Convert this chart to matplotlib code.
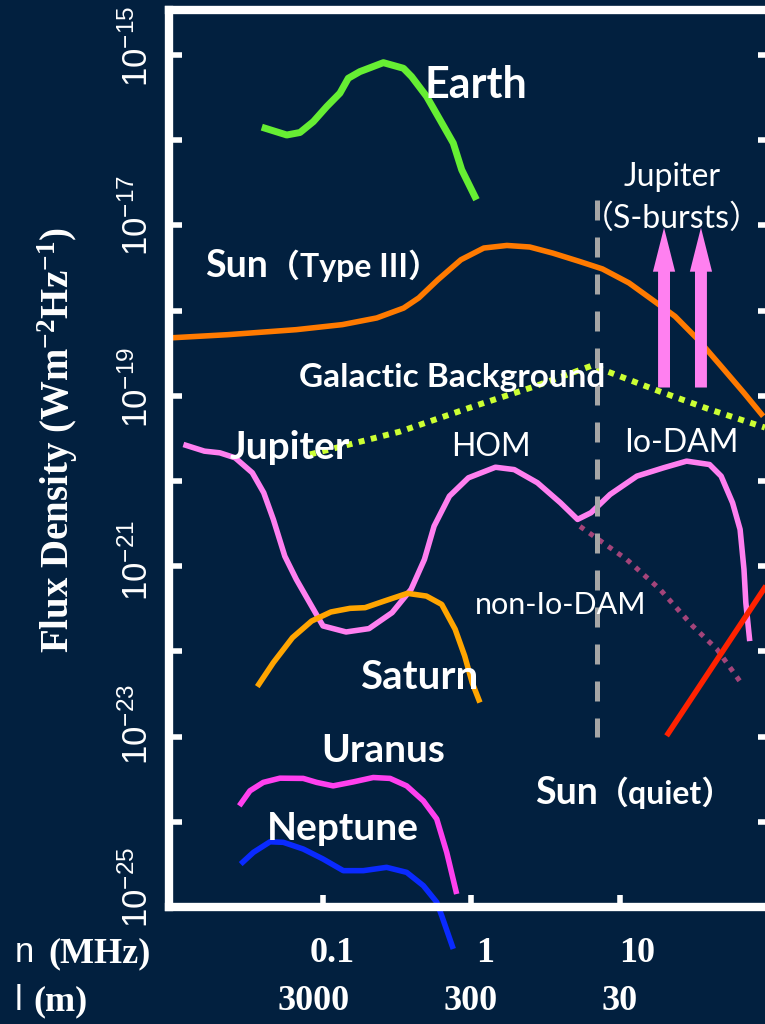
import matplotlib
matplotlib.use("Agg")
import matplotlib.pyplot as plt
from matplotlib.transforms import blended_transform_factory, ScaledTranslation

plt.rcParams['mathtext.default'] = 'regular'

BG = "#02203f"
SANS = ['Lato', 'Noto Sans CJK JP', 'DejaVu Sans']

# frequency in MHz, flux density in W m^-2 Hz^-1
earth_f = [0.0387, 0.057, 0.070, 0.0861, 0.106, 0.130, 0.148, 0.177, 0.255,
           0.348, 0.395, 0.499, 0.614, 0.754, 0.859, 1.08]
earth_s = [1.42e-16, 1.15e-16, 1.23e-16, 1.65e-16, 2.48e-16, 3.56e-16, 5.33e-16,
           6.37e-16, 8.12e-16, 6.98e-16, 5.57e-16, 3.25e-16, 1.73e-16, 9.23e-17,
           4.49e-17, 2.00e-17]

sun3_f = [0.00933, 0.0227, 0.0661, 0.135, 0.230, 0.349, 0.442, 0.594, 0.849, 1.21,
          1.73, 2.47, 3.52, 5.34, 7.62, 11.5, 16.5, 23.5, 33.6, 48.0, 68.4, 92.1]
sun3_s = [4.78e-19, 5.21e-19, 5.97e-19, 6.84e-19, 8.19e-19, 1.07e-18, 1.41e-18,
          2.30e-18, 3.95e-18, 5.42e-18, 5.81e-18, 5.57e-18, 4.73e-18, 3.77e-18,
          3.08e-18, 2.11e-18, 1.34e-18, 8.55e-19, 4.56e-19, 2.22e-19, 1.08e-19,
          5.75e-20]

gal_f = [0.0818, 0.330, 1.07, 2.64, 6.48, 18.6, 40.4, 94.6]
gal_s = [2.05e-20, 3.80e-20, 7.67e-20, 1.28e-19, 2.26e-19, 1.12e-19, 6.89e-20, 4.24e-20]

jup_f = [0.01148, 0.01589, 0.0202, 0.0256, 0.0334, 0.0399, 0.0463, 0.0553, 0.0661,
         0.0813, 0.100, 0.143, 0.204, 0.292, 0.392, 0.482, 0.560, 0.710, 0.954,
         1.45, 1.94, 2.78, 3.97, 5.18, 6.38, 8.58, 13.0, 19.7, 28.1, 40.1, 48.0,
         57.3, 64.4, 68.4, 70.4, 74.8]
jup_s = [2.68e-20, 2.24e-20, 2.14e-20, 1.87e-20, 1.25e-20, 7.27e-21, 3.54e-21,
         1.31e-21, 7.00e-22, 3.73e-22, 1.99e-22, 1.69e-22, 1.85e-22, 2.85e-22,
         5.35e-22, 1.20e-21, 2.95e-21, 6.64e-21, 1.09e-20, 1.45e-20, 1.36e-20,
         9.53e-21, 5.55e-21, 3.54e-21, 4.24e-21, 6.95e-21, 1.14e-20, 1.43e-20,
         1.71e-20, 1.56e-20, 1.14e-20, 5.55e-21, 2.70e-21, 9.17e-22, 3.73e-22,
         1.32e-22]

nonio_f = [5.38, 11.1, 18.6, 31.0, 45.0, 66.4]
nonio_s = [2.93e-21, 1.20e-21, 5.35e-22, 1.97e-22, 1.06e-22, 4.11e-23]

sat_f = [0.0361, 0.0463, 0.0623, 0.0838, 0.113, 0.152, 0.192, 0.259, 0.370, 0.497,
         0.630, 0.776, 0.900, 1.01, 1.14]
sat_s = [3.86e-23, 7.39e-23, 1.45e-22, 2.27e-22, 2.90e-22, 3.20e-22, 3.26e-22,
         3.90e-22, 4.80e-22, 4.46e-22, 3.56e-22, 1.82e-22, 8.83e-23, 4.31e-23,
         2.51e-23]

ura_f = [0.0273, 0.0322, 0.0396, 0.0513, 0.0736, 0.0907, 0.117, 0.160, 0.218,
         0.283, 0.366, 0.474, 0.583, 0.681, 0.795]
ura_s = [1.54e-24, 2.31e-24, 2.90e-24, 3.25e-24, 3.23e-24, 2.90e-24, 2.64e-24,
         2.94e-24, 3.31e-24, 3.23e-24, 2.64e-24, 1.76e-24, 1.08e-24, 4.38e-25,
         1.42e-25]

nep_f = [0.0279, 0.0340, 0.0440, 0.0541, 0.0736, 0.100, 0.137, 0.187, 0.268, 0.366,
         0.474, 0.583, 0.630, 0.754]
nep_s = [3.19e-25, 4.38e-25, 5.83e-25, 5.74e-25, 4.79e-25, 3.66e-25, 2.67e-25,
         2.67e-25, 2.92e-25, 2.55e-25, 1.78e-25, 1.14e-25, 7.91e-26, 3.22e-26]

quiet_f = [20.6, 100.0]
quiet_s = [1.02e-23, 6.5e-22]

split_f = 7.0                     # dashed divider
split_s = [2.0e-17, 9.8e-24]
burst_f = [19.8, 35.1]            # S-burst arrows
burst_s = [1.25e-19, 9.4e-18]

ytick_exp = list(range(-25, -14))
ylabel_exp = [-25, -23, -21, -19, -17, -15]
ylabel_nudge = [20, 12, 6, 8, 10, 9]   # px the label sits above its tick
freq_ticks = [0.1, 1, 10]
freq_labels = ['0.1', '1', '10']
freq_label_pos = [0.115, 1.24, 13.0]
wave_labels = ['3000', '300', '30']
wave_label_pos = [0.086, 0.99, 10.0]

W, H = 765, 1024
fig = plt.figure(figsize=(W / 100, H / 100), dpi=100, facecolor=BG)
ax = fig.add_axes([169 / W, 1 - 907 / H, (770 - 169) / W, (907 - 10) / H])
ax.set_facecolor(BG)
ax.set_xscale('log')
ax.set_yscale('log')
ax.set_xlim(0.00918, 102.4)
ax.set_ylim(1e-25, 3.37e-15)

def curve(f, s, color, lw=4.0, **kw):
    ax.plot(f, s, color=color, lw=lw, solid_joinstyle='round',
            solid_capstyle='butt', **kw)

curve(earth_f, earth_s, '#66ee33', lw=5)
curve(sun3_f, sun3_s, '#ff7a00')
ax.plot(gal_f, gal_s, color='#ccff33', lw=4.3, ls=(0, (1, 1.1)),
        dash_capstyle='butt')
curve(jup_f, jup_s, '#ff80f0')
ax.plot(nonio_f, nonio_s, color='#a3447a', lw=3.6, ls=(0, (1, 1.3)),
        dash_capstyle='butt')
curve(sat_f, sat_s, '#ffa500')
curve(ura_f, ura_s, '#ff40ee')
curve(nep_f, nep_s, '#0a2aff', clip_on=False)
curve(quiet_f, quiet_s, '#ff2200')
ax.plot([split_f, split_f], split_s, color='#a6a6a6', lw=3.6,
        ls=(0, (4, 3.4)), dash_capstyle='butt')

for f in burst_f:
    ax.annotate('', xy=(f, burst_s[1]), xytext=(f, burst_s[0]),
                arrowprops=dict(arrowstyle='simple,head_length=3.17,head_width=1.6,tail_width=0.86',
                                color='#ff80f0', shrinkA=0, shrinkB=0,
                                mutation_scale=10, lw=0))

# axes frame and ticks
for side in ['left', 'top', 'bottom', 'right']:
    ax.spines[side].set_color('white')
    ax.spines[side].set_linewidth(6)
ax.set_xticks(freq_ticks)
ax.set_xticklabels([])
ax.set_yticks([10.0 ** e for e in ytick_exp])
ax.set_yticklabels([])
ax.minorticks_off()
ax.tick_params(axis='both', which='major', direction='in', length=9, width=4,
               color='white')
ax.tick_params(axis='y', left=True, right=True)

# rotated decade labels, sitting a little above their ticks
for e, dy in zip(ylabel_exp, ylabel_nudge):
    tr = (blended_transform_factory(ax.transAxes, ax.transData)
          + ScaledTranslation(-14 / 100, dy / 100, fig.dpi_scale_trans))
    ax.text(0, 10.0 ** e, '$10^{%d}$' % e, transform=tr, rotation=90,
            ha='right', va='center', color='white', fontsize=25,
            family='Liberation Sans', clip_on=False)

# in-plot labels
def label(x, y, s, size, bold=True, **kw):
    ax.text(x, y, s, color='white', fontsize=size, family=SANS,
            fontweight='bold' if bold else 'normal', ha='center',
            va='baseline', **kw)

label(1.07, 3.13e-16, 'Earth', 31)
label(0.0260, 2.49e-18, 'Sun', 27)
label(0.162, 2.49e-18, '（Type III）', 23)
label(0.740, 1.28e-19, 'Galactic Background', 24)
label(0.0600, 1.79e-20, 'Jupiter', 28)
label(1.35, 1.95e-20, 'HOM', 23, bold=False)
label(25.8, 2.20e-20, 'Io-DAM', 23, bold=False)
label(22.4, 2.86e-17, 'Jupiter', 23, bold=False)
label(22.4, 9.29e-18, '（S-bursts）', 23, bold=False)
label(4.01, 2.72e-22, 'non-Io-DAM', 22, bold=False)
label(0.443, 3.66e-23, 'Saturn', 29)
label(0.254, 5.05e-24, 'Uranus', 28)
label(0.136, 6.15e-25, 'Neptune', 28)
label(4.40, 1.61e-24, 'Sun', 27)
label(20.4, 1.61e-24, '（quiet）', 23)

# axis titles and bottom numbers
fig.text(58 / W, 1 - 440 / H, 'Flux Density (Wm$^{-2}$Hz$^{-1}$)', color='white',
         fontsize=28, family='Liberation Serif', fontweight='bold',
         rotation=90, ha='center', va='center')

bt = blended_transform_factory(ax.transData, fig.transFigure)
for x, s in zip(freq_label_pos, freq_labels):
    ax.text(x, 1 - 962 / H, s, transform=bt, color='white', fontsize=26,
            family='Liberation Serif', fontweight='bold', ha='center',
            va='baseline')
for x, s in zip(wave_label_pos, wave_labels):
    ax.text(x, 1 - 1010 / H, s, transform=bt, color='white', fontsize=26,
            family='Liberation Serif', fontweight='bold', ha='center',
            va='baseline')

fig.text(15 / W, 1 - 962 / H, 'n', color='white', fontsize=25,
         family='Liberation Sans', ha='left', va='baseline')
fig.text(48 / W, 1 - 962 / H, '(MHz)', color='white', fontsize=26,
         family='Liberation Serif', fontweight='bold', ha='left', va='baseline')
fig.text(15 / W, 1 - 1010 / H, 'l', color='white', fontsize=25,
         family='Liberation Sans', ha='left', va='baseline')
fig.text(33 / W, 1 - 1010 / H, '(m)', color='white', fontsize=26,
         family='Liberation Serif', fontweight='bold', ha='left', va='baseline')

fig.savefig('out.png', dpi=100, facecolor=BG)
